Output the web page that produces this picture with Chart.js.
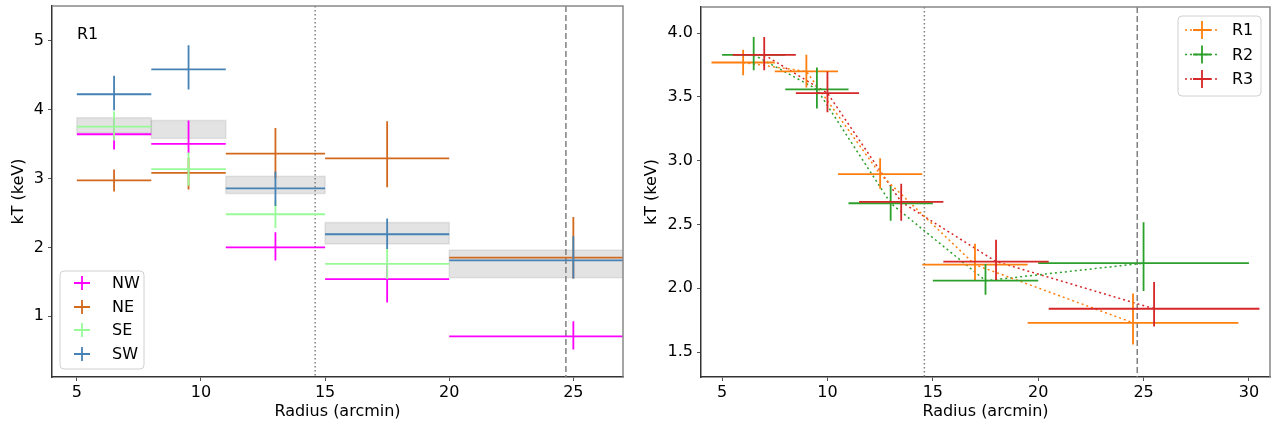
<!DOCTYPE html>
<html>
<head>
<meta charset="utf-8">
<script src="https://cdn.jsdelivr.net/npm/chart.js@4.4.0/dist/chart.umd.min.js"></script>
<style>
body { margin: 0; background: #fff; width: 1273px; height: 427px; overflow: hidden; position: relative; }
#left { position: absolute; left: 0; top: 0; }
#right { position: absolute; left: 630px; top: 0; }
</style>
</head>
<body>
<canvas id="left" width="630" height="427"></canvas>
<canvas id="right" width="643" height="427"></canvas>
<script>
Chart.defaults.font.family = "'DejaVu Sans', sans-serif";
Chart.defaults.font.size = 16;
Chart.defaults.color = '#000';

// left panel: R1 sectors
const binLo = [5, 8, 11, 15, 20];
const binHi = [8, 11, 15, 20, 30];
const binMid = [6.5, 9.5, 13, 17.5, 25];

const nwT = [3.64, 3.50, 2.00, 1.54, 0.71];
const nwUp = [0.22, 0.34, 0.22, 0.20, 0.22];
const nwLo = [0.22, 0.13, 0.19, 0.34, 0.19];

const neT = [2.97, 3.08, 3.36, 3.29, 1.85];
const neUp = [0.16, 0.22, 0.37, 0.54, 0.59];
const neLo = [0.16, 0.24, 0.36, 0.42, 0.30];

const seT = [3.75, 3.135, 2.48, 1.76];
const seUp = [0.22, 0.24, 0.20, 0.22];
const seLo = [0.20, 0.24, 0.20, 0.22];

const swT = [4.22, 4.58, 2.855, 2.19, 1.81];
const swUp = [0.27, 0.35, 0.245, 0.23, 0.35];
const swLo = [0.23, 0.29, 0.255, 0.215, 0.26];

const bandLo = [3.66, 3.58, 2.78, 2.05, 1.56];
const bandHi = [3.88, 3.84, 3.03, 2.36, 1.96];

const leftXTicks = [5, 10, 15, 20, 25];
const leftYTicks = [1, 2, 3, 4, 5];

// right panel: R1, R2, R3 averages
const r1X = [6.0, 9.0, 12.5, 17.0, 24.5];
const r1XLo = [4.5, 7.5, 10.5, 14.5, 19.5];
const r1XHi = [7.5, 10.5, 14.5, 19.5, 29.5];
const r1T = [3.77, 3.70, 2.895, 2.185, 1.73];
const r1Up = [0.10, 0.13, 0.125, 0.165, 0.23];
const r1Lo = [0.10, 0.125, 0.115, 0.125, 0.17];

const r2X = [6.5, 9.5, 13.0, 17.5, 25.0];
const r2XLo = [5.0, 8.0, 11.0, 15.0, 20.0];
const r2XHi = [8.0, 11.0, 15.0, 20.0, 30.0];
const r2T = [3.83, 3.56, 2.667, 2.06, 2.197];
const r2Up = [0.14, 0.17, 0.133, 0.13, 0.32];
const r2Lo = [0.12, 0.15, 0.137, 0.11, 0.217];

const r3X = [7.0, 10.0, 13.5, 18.0, 25.5];
const r3XLo = [5.5, 8.5, 11.5, 15.5, 20.5];
const r3XHi = [8.5, 11.5, 15.5, 20.5, 30.5];
const r3T = [3.83, 3.53, 2.677, 2.21, 1.84];
const r3Up = [0.14, 0.17, 0.143, 0.17, 0.21];
const r3Lo = [0.12, 0.15, 0.147, 0.145, 0.14];

const rightXTicks = [5, 10, 15, 20, 25, 30];
const rightYTicks = [1.5, 2.0, 2.5, 3.0, 3.5, 4.0];

const dottedRadius = 14.6;
const dashedRadius = 24.7;

function points(xs, xl, xh, ys, up, lo) {
    return ys.map((v, i) => ({ x: xs[i], y: v, xl: xl[i], xh: xh[i], yl: v - lo[i], yh: v + up[i] }));
}

const errorBars = {
    id: 'errorBars',
    beforeDatasetsDraw(chart, args, opts) {
        const { ctx, chartArea: a, scales: { x, y } } = chart;
        ctx.save();
        ctx.beginPath();
        ctx.rect(a.left, a.top, a.width, a.height);
        ctx.clip();
        (opts.bands || []).forEach(b => {
            const x0 = x.getPixelForValue(b.x0), x1 = x.getPixelForValue(b.x1);
            const y0 = y.getPixelForValue(b.hi), y1 = y.getPixelForValue(b.lo);
            ctx.fillStyle = 'rgba(128,128,128,0.22)';
            ctx.fillRect(x0, y0, x1 - x0, y1 - y0);
            ctx.strokeStyle = 'rgba(128,128,128,0.18)';
            ctx.lineWidth = 1.5;
            ctx.strokeRect(x0, y0, x1 - x0, y1 - y0);
        });
        ctx.strokeStyle = '#808080';
        ctx.lineWidth = 1.5;
        [[dottedRadius, [1.5, 2.5]], [dashedRadius, [6, 3]]].forEach(([v, dash]) => {
            const px = x.getPixelForValue(v);
            ctx.setLineDash(dash);
            ctx.beginPath();
            ctx.moveTo(px, a.top);
            ctx.lineTo(px, a.bottom);
            ctx.stroke();
        });
        ctx.restore();
    },
    afterDatasetsDraw(chart) {
        const { ctx, chartArea: a, scales: { x, y } } = chart;
        ctx.save();
        ctx.beginPath();
        ctx.rect(a.left, a.top, a.width, a.height);
        ctx.clip();
        ctx.lineWidth = 1.8;
        chart.data.datasets.forEach(ds => {
            ctx.strokeStyle = ds.borderColor;
            ds.data.forEach(p => {
                const px = x.getPixelForValue(p.x), py = y.getPixelForValue(p.y);
                ctx.beginPath();
                ctx.moveTo(x.getPixelForValue(p.xl), py);
                ctx.lineTo(x.getPixelForValue(p.xh), py);
                ctx.moveTo(px, y.getPixelForValue(p.yl));
                ctx.lineTo(px, y.getPixelForValue(p.yh));
                ctx.stroke();
            });
        });
        ctx.restore();
    },
    afterDraw(chart, args, opts) {
        const { ctx, chartArea: a } = chart;
        ctx.save();
        // top and right spines
        ctx.strokeStyle = '#888';
        ctx.lineWidth = 1.5;
        ctx.beginPath();
        ctx.moveTo(a.left, a.top);
        ctx.lineTo(a.right, a.top);
        ctx.lineTo(a.right, a.bottom);
        ctx.stroke();

        ctx.font = "16px 'DejaVu Sans', sans-serif";
        ctx.textBaseline = 'middle';
        ctx.fillStyle = '#000';
        if (opts.label) ctx.fillText(opts.label.text, opts.label.x, opts.label.y);

        const lg = opts.legend;
        if (lg) {
            ctx.fillStyle = 'rgba(255,255,255,0.8)';
            ctx.strokeStyle = '#d0d0d0';
            ctx.lineWidth = 1;
            ctx.beginPath();
            ctx.roundRect(lg.x, lg.y, lg.w, lg.h, 4);
            ctx.fill();
            ctx.stroke();
            chart.data.datasets.forEach((ds, i) => {
                const cy = lg.rows[i];
                ctx.strokeStyle = ds.borderColor;
                if (lg.line) {
                    ctx.lineWidth = 1.5;
                    ctx.setLineDash([2, 3]);
                    ctx.beginPath();
                    ctx.moveTo(lg.mx - 17, cy);
                    ctx.lineTo(lg.mx + 17, cy);
                    ctx.stroke();
                    ctx.setLineDash([]);
                }
                ctx.lineWidth = 1.8;
                ctx.beginPath();
                ctx.moveTo(lg.mx - lg.hw, cy);
                ctx.lineTo(lg.mx + lg.hw, cy);
                ctx.moveTo(lg.mx, cy - lg.hh);
                ctx.lineTo(lg.mx, cy + lg.hh);
                ctx.stroke();
                ctx.fillStyle = '#000';
                ctx.fillText(ds.label, lg.tx, cy + 1);
            });
        }
        ctx.restore();
    }
};

function axes(xMin, xMax, yMin, yMax, xTicks, yTicks, yWidth, yTitlePad, yFmt) {
    return {
        x: {
            type: 'linear', min: xMin, max: xMax,
            afterBuildTicks: s => { s.ticks = xTicks.map(v => ({ value: v })); },
            afterFit: s => { s.height = 50; s.paddingLeft = 0; s.paddingRight = 0; },
            ticks: { autoSkip: false, maxRotation: 0, padding: 2, color: '#000' },
            grid: { drawOnChartArea: false, drawTicks: true, tickLength: 4, color: '#555' },
            border: { display: true, color: '#333', width: 1.5 },
            title: { display: true, text: 'Radius (arcmin)', color: '#000', padding: { top: 0, bottom: 6 } }
        },
        y: {
            type: 'linear', min: yMin, max: yMax,
            afterBuildTicks: s => { s.ticks = yTicks.map(v => ({ value: v })); },
            afterFit: s => { s.width = yWidth; s.paddingTop = 0; s.paddingBottom = 0; },
            ticks: { autoSkip: false, padding: 4, color: '#000', callback: yFmt },
            grid: { drawOnChartArea: false, drawTicks: true, tickLength: 4, color: '#555' },
            border: { display: true, color: '#333', width: 1.5 },
            title: { display: true, text: 'kT (keV)', color: '#000', padding: { top: yTitlePad, bottom: 0 } }
        }
    };
}

const leftChart = new Chart(document.getElementById('left'), {
    type: 'scatter',
    data: {
        datasets: [
            { label: 'NW', borderColor: '#ff00ff', data: points(binMid, binLo, binHi, nwT, nwUp, nwLo) },
            { label: 'NE', borderColor: '#d2691e', data: points(binMid, binLo, binHi, neT, neUp, neLo) },
            { label: 'SE', borderColor: '#98fb98', data: points(binMid, binLo, binHi, seT, seUp, seLo) },
            { label: 'SW', borderColor: '#4682b4', data: points(binMid, binLo, binHi, swT, swUp, swLo) }
        ]
    },
    options: {
        responsive: false,
        animation: false,
        devicePixelRatio: 1,
        elements: { point: { radius: 0, hoverRadius: 0 } },
        layout: { padding: { left: 0, top: 6, right: 7, bottom: 0 } },
        scales: axes(4, 27, 0.12, 5.5, leftXTicks, leftYTicks, 52, 9, v => v),
        plugins: {
            legend: { display: false },
            tooltip: { enabled: false },
            errorBars: {
                bands: binLo.map((b, i) => ({ x0: b, x1: binHi[i], lo: bandLo[i], hi: bandHi[i] })),
                label: { text: 'R1', x: 77, y: 35 },
                legend: { x: 60, y: 271, w: 84, h: 98, rows: [283, 307, 330, 354], mx: 82, hw: 8, hh: 7, tx: 112 }
            }
        }
    },
    plugins: [errorBars]
});

const rightChart = new Chart(document.getElementById('right'), {
    type: 'scatter',
    data: {
        datasets: [
            { label: 'R1', borderColor: '#ff7f0e', data: points(r1X, r1XLo, r1XHi, r1T, r1Up, r1Lo) },
            { label: 'R2', borderColor: '#2ca02c', data: points(r2X, r2XLo, r2XHi, r2T, r2Up, r2Lo) },
            { label: 'R3', borderColor: '#d62728', data: points(r3X, r3XLo, r3XHi, r3T, r3Up, r3Lo) }
        ].map(d => Object.assign(d, { showLine: true, borderWidth: 1.5, borderDash: [2, 3], tension: 0 }))
    },
    options: {
        responsive: false,
        animation: false,
        devicePixelRatio: 1,
        elements: { point: { radius: 0, hoverRadius: 0 } },
        layout: { padding: { left: 0, top: 7, right: 3, bottom: 0 } },
        scales: axes(4, 31, 1.305, 4.205, rightXTicks, rightYTicks, 71, 12, v => v.toFixed(1)),
        plugins: {
            legend: { display: false },
            tooltip: { enabled: false },
            errorBars: {
                legend: { x: 548, y: 16, w: 83, h: 80, rows: [30, 54.5, 79], mx: 572, hw: 9, hh: 9, tx: 602, line: true }
            }
        }
    },
    plugins: [errorBars]
});
</script>
</body>
</html>
